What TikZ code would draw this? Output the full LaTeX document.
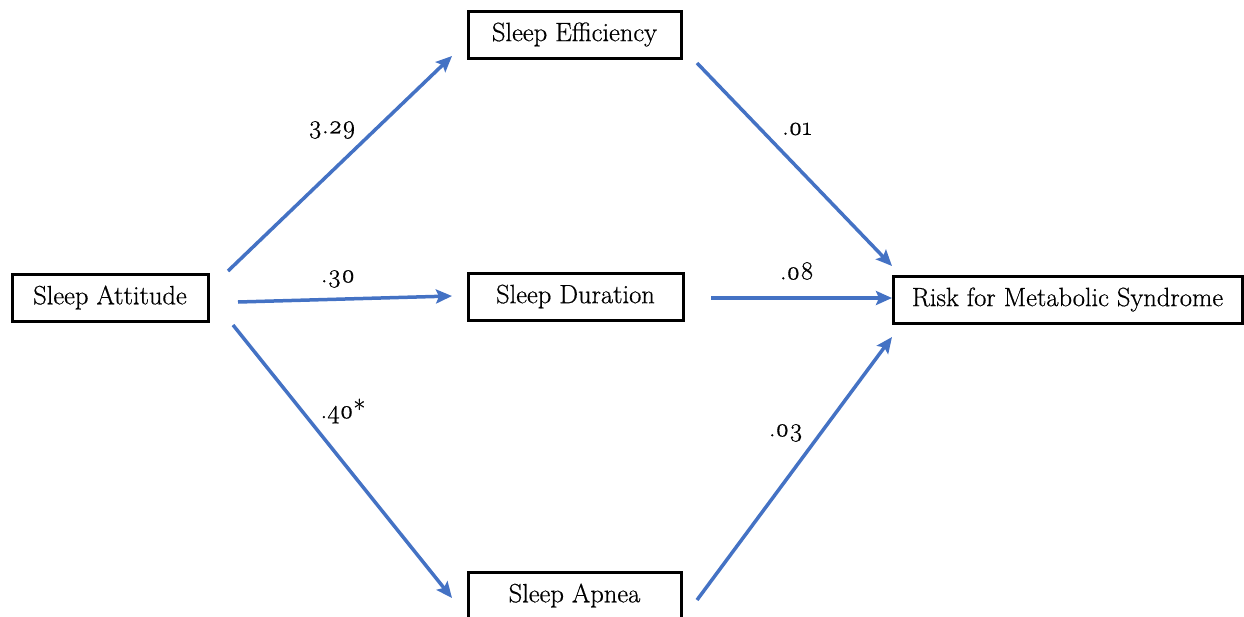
\documentclass[tikz,border=0pt]{standalone}
\usepackage{fontspec}
\setmainfont{Latin Modern Roman}[Numbers=OldStyle]
\newfontfamily\boxfont{Latin Modern Roman}[Numbers=OldStyle,FakeBold=0.6]
\usetikzlibrary{arrows.meta}
\definecolor{arrblue}{HTML}{4472C4}
\begin{document}
\begin{tikzpicture}[x=1pt,y=-1pt,
  box/.style={draw=black,line width=3pt,minimum height=47pt,inner sep=0pt,font=\boxfont\fontsize{26.5}{29}\selectfont},
  conn/.style={draw=arrblue,line width=3.5pt,-{Stealth[length=16pt,width=14pt,inset=3pt]}},
  lbl/.style={font=\boxfont\fontsize{26}{29}\selectfont}]
\useasboundingbox (0,0) rectangle (1244,616);
\begin{scope}
\clip (0,0) rectangle (1244,616);
\node[box,minimum width=196pt] (sa) at (110,297.5) {\raisebox{-1pt}{Sleep Attitude}};
\node[box,minimum width=213pt] (se) at (574.5,34.5) {\raisebox{-1pt}{Sleep Efficiency}};
\node[box,minimum width=215pt] (sd) at (575.5,296.5) {\raisebox{-1pt}{Sleep Duration}};
\node[box,minimum width=213pt] (sp) at (574.5,595.5) {\raisebox{-1pt}{Sleep Apnea}};
\node[box,minimum width=349pt] (rk) at (1067.5,299.5) {\raisebox{-1pt}{Risk for Metabolic Syndrome}};
\end{scope}
\coordinate (a1) at (228,271);   \coordinate (b1) at (452,56);
\coordinate (a2) at (238,302);   \coordinate (b2) at (452,296);
\coordinate (a3) at (233,325);   \coordinate (b3) at (452,598);
\coordinate (a4) at (697,63);    \coordinate (b4) at (892,266);
\coordinate (a5) at (711,298);   \coordinate (b5) at (892,298);
\coordinate (a6) at (697,600);   \coordinate (b6) at (892,337);
\draw[conn] (a1) -- (b1);
\draw[conn] (a2) -- (b2);
\draw[conn] (a3) -- (b3);
\draw[conn] (a4) -- (b4);
\draw[conn] (a5) -- (b5);
\draw[conn] (a6) -- (b6);
\node[lbl] (l1) at (332,130) {3.29};
\node[lbl] (l2) at (338,279) {.30};
\node[lbl] (l3) at (343,411) {.40*};
\node[lbl] (l4) at (797,129) {.01};
\node[lbl] (l5) at (797,271) {.08};
\node[lbl] (l6) at (786,433) {.03};
\end{tikzpicture}
\end{document}
